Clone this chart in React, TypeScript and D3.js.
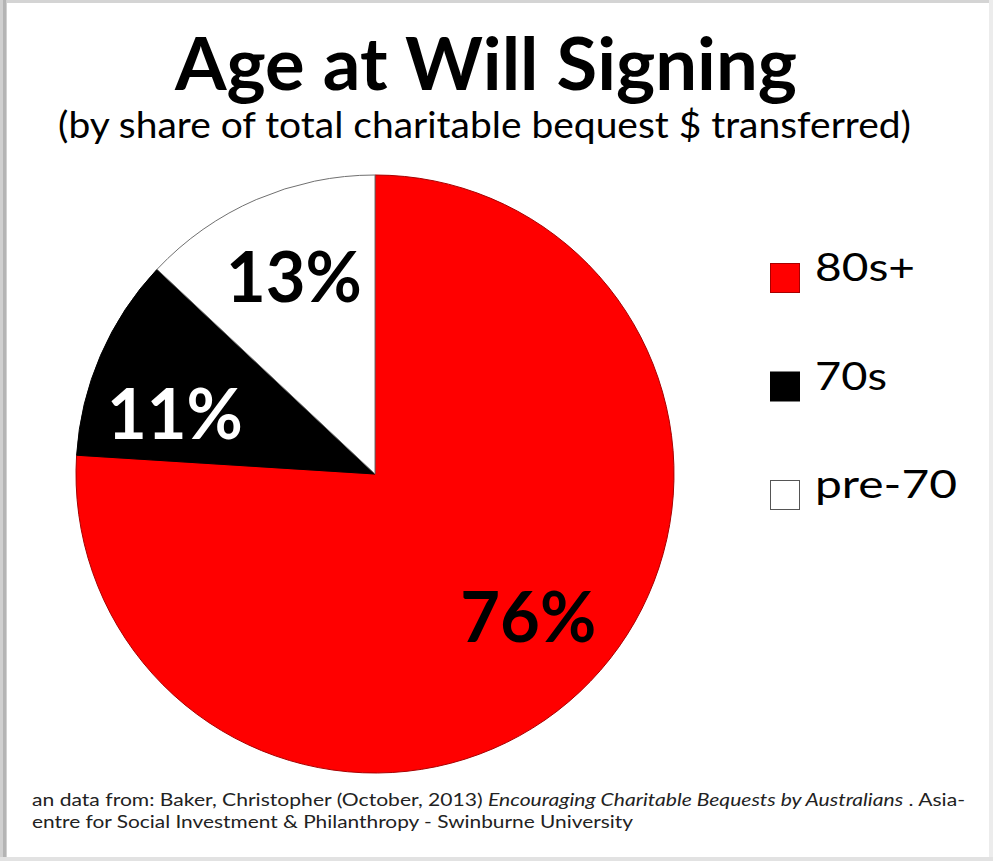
import React from "react";
import * as d3 from "d3";

// Share of total charitable bequest dollars by age at will signing
const categories = ["80s+", "70s", "pre-70"];
const shares = [76, 11, 13];
const sliceColors = ["#ff0000", "#000000", "#ffffff"];
const sliceStrokes = ["#a80000", "#000000", "#707070"];
const labelColors = ["#000000", "#ffffff", "#000000"];

const titleText = "Age at Will Signing";
const subtitleText = "(by share of total charitable bequest $ transferred)";
const sourceLine1Parts = [
  { text: "an data from: Baker, Christopher (October, 2013) ", italic: false },
  { text: "Encouraging Charitable Bequests by Australians", italic: true },
  { text: " . Asia-", italic: false },
];
const sourceLine2 = "entre for Social Investment & Philanthropy - Swinburne University";

const W = 993;
const H = 861;
const FONT = "Lato, 'Open Sans', sans-serif";

export default function App() {
  const cx = 375;
  const cy = 474;
  const r = 299;

  const pie = d3
    .pie<number>()
    .value((d) => d)
    .sort(null)
    .startAngle(0)
    .endAngle(2 * Math.PI);
  const arcs = pie(shares);
  const arcGen = d3.arc<d3.PieArcDatum<number>>().innerRadius(0).outerRadius(r);
  const labelArc = d3
    .arc<d3.PieArcDatum<number>>()
    .innerRadius(r * 0.7)
    .outerRadius(r * 0.7);
  // small per-slice nudges for the percentage labels
  const nudges = [
    [10, -10],
    [-8, 23],
    [2, -5],
  ];

  const legendY = d3
    .scalePoint<string>()
    .domain(categories)
    .range([278, 495]);
  const legendTextWidths = [100, 72, 142];

  return (
    <svg
      width={W}
      height={H}
      viewBox={`0 0 ${W} ${H}`}
      style={{ position: "absolute", left: 0, top: 0, display: "block", background: "#ffffff" }}
    >
      <rect x={0} y={0} width={W} height={H} fill="#ffffff" />
      {/* slide frame */}
      <rect x={0} y={0} width={W} height={3} fill="#d4d4d4" />
      <rect x={0} y={0} width={7} height={H} fill="#d0d0d0" />
      <rect x={3} y={0} width={3} height={H} fill="#b4b4b4" />
      <rect x={W - 4} y={0} width={4} height={H} fill="#ececec" />
      <rect x={0} y={H - 4} width={W} height={4} fill="#e2e2e2" />

      <text
        x={175}
        y={90}
        fontFamily={FONT}
        fontWeight={700}
        fontSize={72}
        fill="#000"
        textLength={622}
        lengthAdjust="spacingAndGlyphs"
      >
        {titleText}
      </text>
      <text
        x={58}
        y={138}
        fontFamily={FONT}
        fontSize={36}
        fill="#000"
        textLength={853}
        lengthAdjust="spacingAndGlyphs"
      >
        {subtitleText}
      </text>

      <g transform={`translate(${cx},${cy})`}>
        {arcs.map((a, i) => (
          <path
            key={categories[i]}
            d={arcGen(a) || ""}
            fill={sliceColors[i]}
            stroke={sliceStrokes[i]}
            strokeWidth={1}
          />
        ))}
        {arcs.map((a, i) => {
          const [lx, ly] = labelArc.centroid(a);
          return (
            <text
              key={"lbl" + categories[i]}
              x={lx + nudges[i][0]}
              y={ly + nudges[i][1] + 25}
              textAnchor="middle"
              fontFamily={FONT}
              fontWeight={700}
              fontSize={70}
              fill={labelColors[i]}
              textLength={136}
              lengthAdjust="spacingAndGlyphs"
            >
              {`${shares[i]}%`}
            </text>
          );
        })}
      </g>

      {categories.map((c, i) => {
        const y = legendY(c) as number;
        return (
          <g key={"leg" + c}>
            <rect
              x={770.5}
              y={y - 14.5}
              width={29}
              height={29}
              fill={sliceColors[i]}
              stroke={i === 2 ? "#555" : sliceStrokes[i]}
              strokeWidth={1}
            />
            <text
              x={815}
              y={y + 3}
              fontFamily={FONT}
              fontSize={39}
              fill="#000"
              textLength={legendTextWidths[i]}
              lengthAdjust="spacingAndGlyphs"
            >
              {c}
            </text>
          </g>
        );
      })}

      <text
        x={32}
        y={806}
        fontFamily={FONT}
        fontSize={17}
        fill="#222"
        textLength={933}
        lengthAdjust="spacingAndGlyphs"
      >
        {sourceLine1Parts.map((p, i) => (
          <tspan key={i} fontStyle={p.italic ? "italic" : "normal"}>
            {p.text}
          </tspan>
        ))}
      </text>
      <text
        x={32}
        y={828}
        fontFamily={FONT}
        fontSize={17}
        fill="#222"
        textLength={601}
        lengthAdjust="spacingAndGlyphs"
      >
        {sourceLine2}
      </text>
    </svg>
  );
}
